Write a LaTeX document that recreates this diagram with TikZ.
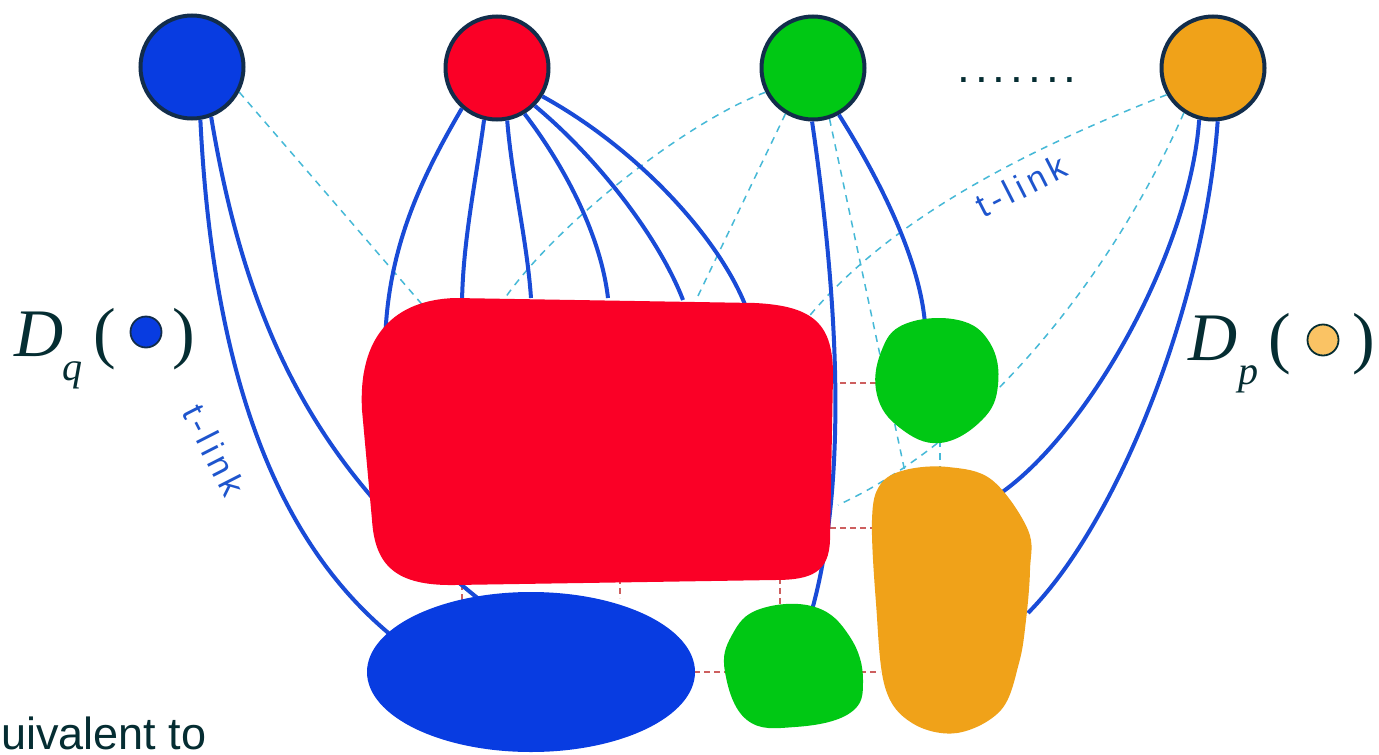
\documentclass[tikz,border=0pt]{standalone}
\usepackage{fontspec}
\setmainfont{Liberation Serif}
\newfontfamily\lsans{Liberation Sans}
\newfontfamily\lsansspaced[LetterSpace=15]{Liberation Sans}
\definecolor{linkblue}{RGB}{25,75,215}
\definecolor{fillblue}{RGB}{8,60,225}
\definecolor{fillred}{RGB}{250,0,38}
\definecolor{fillgreen}{RGB}{0,200,20}
\definecolor{fillorange}{RGB}{240,162,25}
\definecolor{rim}{RGB}{18,45,75}
\definecolor{nlink}{RGB}{70,185,215}
\definecolor{rlink}{RGB}{205,95,95}
\definecolor{labtxt}{RGB}{5,45,50}
\definecolor{tlinktxt}{RGB}{30,85,205}
\definecolor{dotorange}{RGB}{250,195,100}
\begin{document}
\begin{tikzpicture}[x=1pt,y=-1pt,
  topc/.style={circle, draw=rim, line width=4pt, minimum size=103pt, inner sep=0pt},
  tlk/.style={draw=linkblue, line width=4pt},
  nlk/.style={draw=nlink, line width=1.5pt, dash pattern=on 7pt off 6pt},
  rlk/.style={draw=rlink, line width=1.6pt, dash pattern=on 6pt off 4pt},
  lab/.style={text=labtxt, inner sep=0pt},
  tlab/.style={text=tlinktxt, inner sep=0pt, font=\lsansspaced\fontsize{34}{34}\selectfont},
  bigD/.style={lab, anchor=base west, font=\fontsize{68}{68}\selectfont\itshape},
  subD/.style={lab, anchor=base west, font=\fontsize{40}{40}\selectfont\itshape},
  paren/.style={lab, anchor=base west, font=\fontsize{68}{68}\selectfont},
  dotq/.style={circle, draw=rim, line width=1.8pt, minimum size=31pt, inner sep=0pt}
]
\useasboundingbox (0,0) rectangle (1379,755);
\fill[white] (0,0) rectangle (1379,755);

% top terminal circles
\node[topc, fill=fillblue] (cq) at (192,67) {};
\node[topc, fill=fillred] (cr) at (497,68) {};
\node[topc, fill=fillgreen] (cg) at (813,68) {};
\node[topc, fill=fillorange] (co) at (1213,68) {};
\node[lab, anchor=base, font=\lsans\fontsize{46}{46}\selectfont] (dots) at (1017,82)
  {.\kern5pt.\kern5pt.\kern5pt.\kern5pt.\kern5pt.\kern5pt.};

% end points on regions
\coordinate (qa) at (392,636);
\coordinate (qb) at (480,600);
\coordinate (ra) at (385,345);
\coordinate (rb) at (462,302);
\coordinate (rc) at (531,298);
\coordinate (rd) at (608,298);
\coordinate (re) at (683,300);
\coordinate (rf) at (746,307);
\coordinate (ga) at (812,610);
\coordinate (gb) at (925,324);
\coordinate (oa) at (1001,493);
\coordinate (ob) at (1028,613);
\coordinate (na) at (432,316);
\coordinate (nb) at (505,298);
\coordinate (nc) at (697,298);
\coordinate (nd) at (905,472);
\coordinate (ne) at (806,320);
\coordinate (nf) at (838,505);
% n-link end points between regions
\coordinate (m1a) at (830,383); \coordinate (m1b) at (878,383);
\coordinate (m2a) at (830,528); \coordinate (m2b) at (872,528);
\coordinate (m3a) at (620,578); \coordinate (m3b) at (620,598);
\coordinate (m4a) at (462,584); \coordinate (m4b) at (462,604);
\coordinate (m5a) at (694,672); \coordinate (m5b) at (726,672);
\coordinate (m6a) at (860,672); \coordinate (m6b) at (880,672);
\coordinate (m7a) at (780,578); \coordinate (m7b) at (780,608);
\coordinate (m8a) at (940,440); \coordinate (m8b) at (940,470);

% dashed n-links
\draw[nlk] (cq.-28) -- (na);
\draw[nlk] (cg.-153) .. controls (690,120) and (560,220) .. (nb);
\draw[nlk] (cg.-121) -- (nc);
\draw[nlk] (cg.-72) -- (nd);
\draw[nlk] (co.-150) .. controls (1000,160) and (880,230) .. (ne);
\draw[nlk] (co.-123) .. controls (1110,280) and (980,440) .. (nf);
\draw[nlk] (m8a) -- (m8b);
\foreach \a in {m1,m2,m3,m4,m5,m6,m7}{\draw[rlk] (\a a) -- (\a b);}

% solid t-links
\draw[tlk] (cq.-81) .. controls (215,420) and (300,560) .. (qa);
\draw[tlk] (cq.-69) .. controls (250,350) and (330,480) .. (qb);
\draw[tlk] (cr.-131) .. controls (420,180) and (387,250) .. (ra);
\draw[tlk] (cr.-104) .. controls (476,180) and (463,240) .. (rb);
\draw[tlk] (cr.-79) .. controls (512,180) and (527,240) .. (rc);
\draw[tlk] (cr.-59) .. controls (560,160) and (600,230) .. (rd);
\draw[tlk] (cr.-45) .. controls (600,160) and (660,240) .. (re);
\draw[tlk] (cr.-32) .. controls (640,150) and (720,240) .. (rf);
\draw[tlk] (cg.-91) .. controls (838,300) and (848,480) .. (ga);
\draw[tlk] (cg.-61) .. controls (880,180) and (920,260) .. (gb);
\draw[tlk] (co.-105) .. controls (1190,250) and (1090,430) .. (oa);
\draw[tlk] (co.-85) .. controls (1205,300) and (1120,520) .. (ob);

% regions
\fill[fillred] (455,298) -- (755,303) .. controls (815,306) and (833,325) .. (833,375)
  -- (830,540) .. controls (829,572) and (812,580) .. (775,580)
  -- (455,585) .. controls (395,586) and (375,565) .. (372,520)
  -- (362,410) .. controls (358,335) and (395,300) .. (455,298) -- cycle;
\fill[fillblue] (531,672) ellipse [x radius=164pt, y radius=80pt];
\fill[fillgreen] plot[smooth cycle, tension=0.7] coordinates
  {(905,324) (958,320) (990,343) (998,385) (982,420) (940,443) (900,428) (877,395) (881,352)};
\fill[fillgreen] plot[smooth cycle, tension=0.7] coordinates
  {(760,609) (815,607) (850,637) (863,680) (850,713) (795,727) (747,720) (725,672) (732,635)};
\fill[fillorange] plot[smooth cycle, tension=0.6] coordinates
  {(905,470) (948,467) (992,480) (1028,530) (1030,570) (1026,620) (1019,663) (1001,710)
   (957,733) (912,723) (885,687) (876,603) (872,520) (880,485)};

% labels
\node[bigD] (dq) at (14,356) {D};
\node[subD] (dqs) at (62,380) {q};
\node[paren] (lq) at (93,355) {(};
\node[dotq, fill=fillblue] (dotq) at (146,332) {};
\node[paren] (rq) at (172,355) {)};

\node[bigD] (dp) at (1188,360) {D};
\node[subD] (dps) at (1238,384) {p};
\node[paren] (lp) at (1268,360) {(};
\node[dotq, fill=dotorange, draw=labtxt] (dotp) at (1323,340) {};
\node[paren] (rp) at (1352,360) {)};

\node[tlab, rotate=-63] (tl1) at (214,450) {t-link};
\node[tlab, rotate=27] (tl2) at (1021,186) {t-link};

\node[lab, anchor=base west, font=\lsans\fontsize{45}{45}\selectfont] (equiv) at (1,749) {uivalent to};
\end{tikzpicture}
\end{document}
